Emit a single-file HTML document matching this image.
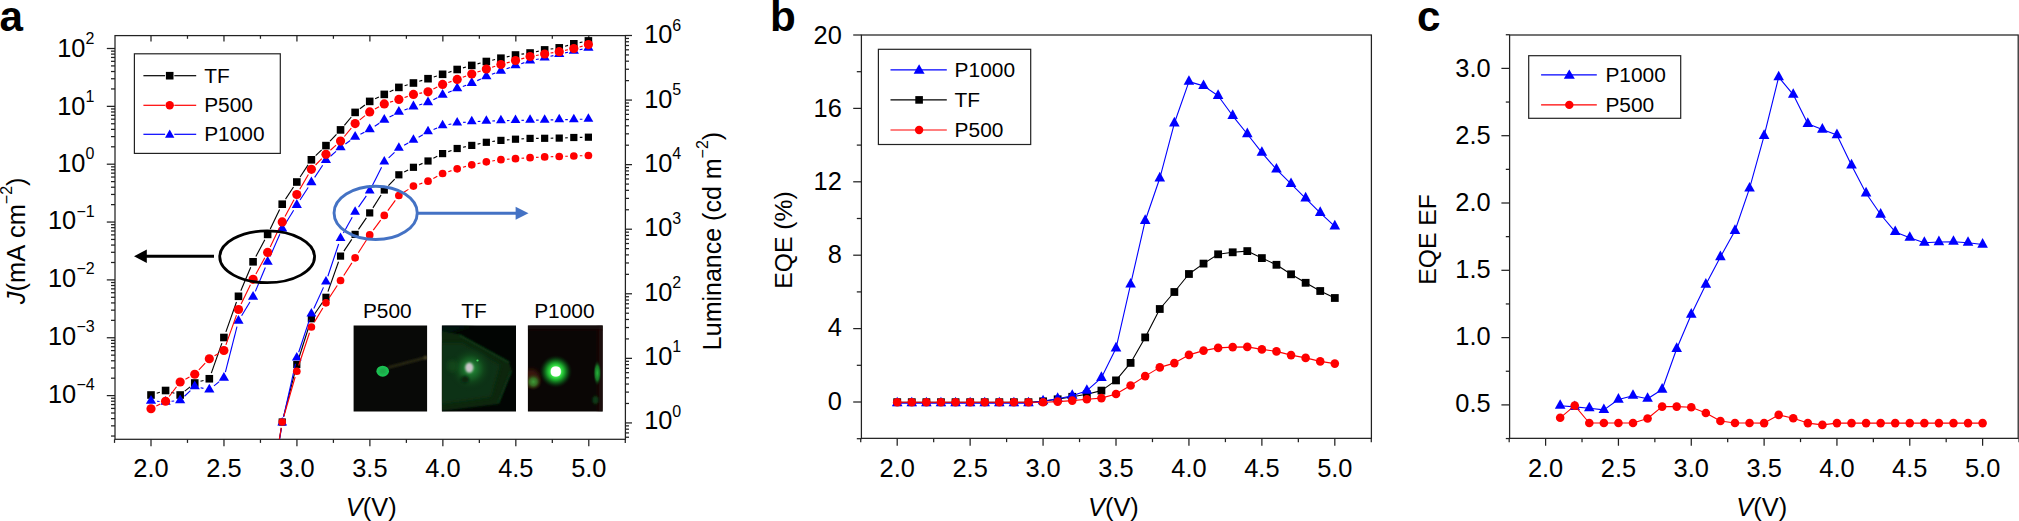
<!DOCTYPE html>
<html lang="en"><head><meta charset="utf-8"><title>Figure</title>
<style>html,body{margin:0;padding:0;background:#fff}svg{display:block}</style></head>
<body>
<svg width="2019" height="521" viewBox="0 0 2019 521" font-family='"Liberation Sans", Arial, Helvetica, sans-serif' fill="#000">
<defs>
<clipPath id="clipA"><rect x="115" y="35.6" width="510.4" height="403.7"/></clipPath>
<radialGradient id="gTF" cx="0.5" cy="0.5" r="0.5"><stop offset="0" stop-color="#2a9a3e"/><stop offset="0.28" stop-color="#1b702c"/><stop offset="0.58" stop-color="#10441a"/><stop offset="1" stop-color="#0b2a13" stop-opacity="0"/></radialGradient>
<radialGradient id="gP1" cx="0.5" cy="0.5" r="0.5"><stop offset="0" stop-color="#ffffff"/><stop offset="0.26" stop-color="#f0fff0"/><stop offset="0.36" stop-color="#34e044"/><stop offset="0.55" stop-color="#189a28"/><stop offset="0.78" stop-color="#0b4513" stop-opacity="0.8"/><stop offset="1" stop-color="#061a08" stop-opacity="0"/></radialGradient>
<radialGradient id="gP1l" cx="0.5" cy="0.5" r="0.5"><stop offset="0" stop-color="#3f9a38"/><stop offset="0.45" stop-color="#356a22"/><stop offset="1" stop-color="#32200a" stop-opacity="0"/></radialGradient>
<radialGradient id="gP1r" cx="0.5" cy="0.5" r="0.5"><stop offset="0" stop-color="#25b03a"/><stop offset="0.55" stop-color="#167024"/><stop offset="1" stop-color="#0a1a08" stop-opacity="0"/></radialGradient>
<clipPath id="cP5"><rect x="353.6" y="325.6" width="73.5" height="85.8"/></clipPath>
<clipPath id="cTF"><rect x="441.9" y="325.6" width="74.1" height="85.8"/></clipPath>
<clipPath id="cP1"><rect x="527.9" y="325.6" width="74.8" height="85.8"/></clipPath>
<filter id="blur05" x="-30%" y="-30%" width="160%" height="160%"><feGaussianBlur stdDeviation="0.5"/></filter>
<filter id="blur1" x="-30%" y="-30%" width="160%" height="160%"><feGaussianBlur stdDeviation="0.9"/></filter>
<filter id="blur2" x="-30%" y="-30%" width="160%" height="160%"><feGaussianBlur stdDeviation="2"/></filter>

</defs>
<rect width="2019" height="521" fill="#fff"/>
<rect x="115.0" y="35.6" width="510.4" height="403.7" fill="none" stroke="#222" stroke-width="1.25"/>
<line x1="114.52" y1="439.30" x2="114.52" y2="442.90" stroke="#222" stroke-width="1.25" />
<line x1="151.00" y1="439.30" x2="151.00" y2="446.30" stroke="#222" stroke-width="1.25" />
<line x1="151.00" y1="35.60" x2="151.00" y2="41.60" stroke="#222" stroke-width="1.25" />
<text x="151.00" y="477.00" font-size="25.4" text-anchor="middle" font-weight="normal" font-style="normal" >2.0</text>
<line x1="187.48" y1="439.30" x2="187.48" y2="442.90" stroke="#222" stroke-width="1.25" />
<line x1="187.48" y1="35.60" x2="187.48" y2="38.80" stroke="#222" stroke-width="1.25" />
<line x1="223.97" y1="439.30" x2="223.97" y2="446.30" stroke="#222" stroke-width="1.25" />
<line x1="223.97" y1="35.60" x2="223.97" y2="41.60" stroke="#222" stroke-width="1.25" />
<text x="223.97" y="477.00" font-size="25.4" text-anchor="middle" font-weight="normal" font-style="normal" >2.5</text>
<line x1="260.45" y1="439.30" x2="260.45" y2="442.90" stroke="#222" stroke-width="1.25" />
<line x1="260.45" y1="35.60" x2="260.45" y2="38.80" stroke="#222" stroke-width="1.25" />
<line x1="296.93" y1="439.30" x2="296.93" y2="446.30" stroke="#222" stroke-width="1.25" />
<line x1="296.93" y1="35.60" x2="296.93" y2="41.60" stroke="#222" stroke-width="1.25" />
<text x="296.93" y="477.00" font-size="25.4" text-anchor="middle" font-weight="normal" font-style="normal" >3.0</text>
<line x1="333.41" y1="439.30" x2="333.41" y2="442.90" stroke="#222" stroke-width="1.25" />
<line x1="333.41" y1="35.60" x2="333.41" y2="38.80" stroke="#222" stroke-width="1.25" />
<line x1="369.89" y1="439.30" x2="369.89" y2="446.30" stroke="#222" stroke-width="1.25" />
<line x1="369.89" y1="35.60" x2="369.89" y2="41.60" stroke="#222" stroke-width="1.25" />
<text x="369.89" y="477.00" font-size="25.4" text-anchor="middle" font-weight="normal" font-style="normal" >3.5</text>
<line x1="406.38" y1="439.30" x2="406.38" y2="442.90" stroke="#222" stroke-width="1.25" />
<line x1="406.38" y1="35.60" x2="406.38" y2="38.80" stroke="#222" stroke-width="1.25" />
<line x1="442.86" y1="439.30" x2="442.86" y2="446.30" stroke="#222" stroke-width="1.25" />
<line x1="442.86" y1="35.60" x2="442.86" y2="41.60" stroke="#222" stroke-width="1.25" />
<text x="442.86" y="477.00" font-size="25.4" text-anchor="middle" font-weight="normal" font-style="normal" >4.0</text>
<line x1="479.34" y1="439.30" x2="479.34" y2="442.90" stroke="#222" stroke-width="1.25" />
<line x1="479.34" y1="35.60" x2="479.34" y2="38.80" stroke="#222" stroke-width="1.25" />
<line x1="515.83" y1="439.30" x2="515.83" y2="446.30" stroke="#222" stroke-width="1.25" />
<line x1="515.83" y1="35.60" x2="515.83" y2="41.60" stroke="#222" stroke-width="1.25" />
<text x="515.83" y="477.00" font-size="25.4" text-anchor="middle" font-weight="normal" font-style="normal" >4.5</text>
<line x1="552.31" y1="439.30" x2="552.31" y2="442.90" stroke="#222" stroke-width="1.25" />
<line x1="552.31" y1="35.60" x2="552.31" y2="38.80" stroke="#222" stroke-width="1.25" />
<line x1="588.79" y1="439.30" x2="588.79" y2="446.30" stroke="#222" stroke-width="1.25" />
<line x1="588.79" y1="35.60" x2="588.79" y2="41.60" stroke="#222" stroke-width="1.25" />
<text x="588.79" y="477.00" font-size="25.4" text-anchor="middle" font-weight="normal" font-style="normal" >5.0</text>
<line x1="625.27" y1="439.30" x2="625.27" y2="442.90" stroke="#222" stroke-width="1.25" />
<line x1="111.00" y1="436.04" x2="115.00" y2="436.04" stroke="#222" stroke-width="1.25" />
<line x1="111.00" y1="425.85" x2="115.00" y2="425.85" stroke="#222" stroke-width="1.25" />
<line x1="111.00" y1="418.62" x2="115.00" y2="418.62" stroke="#222" stroke-width="1.25" />
<line x1="111.00" y1="413.01" x2="115.00" y2="413.01" stroke="#222" stroke-width="1.25" />
<line x1="111.00" y1="408.43" x2="115.00" y2="408.43" stroke="#222" stroke-width="1.25" />
<line x1="111.00" y1="404.56" x2="115.00" y2="404.56" stroke="#222" stroke-width="1.25" />
<line x1="111.00" y1="401.21" x2="115.00" y2="401.21" stroke="#222" stroke-width="1.25" />
<line x1="111.00" y1="398.25" x2="115.00" y2="398.25" stroke="#222" stroke-width="1.25" />
<line x1="106.80" y1="395.60" x2="115.00" y2="395.60" stroke="#222" stroke-width="1.25" />
<line x1="111.00" y1="378.19" x2="115.00" y2="378.19" stroke="#222" stroke-width="1.25" />
<line x1="111.00" y1="368.00" x2="115.00" y2="368.00" stroke="#222" stroke-width="1.25" />
<line x1="111.00" y1="360.77" x2="115.00" y2="360.77" stroke="#222" stroke-width="1.25" />
<line x1="111.00" y1="355.16" x2="115.00" y2="355.16" stroke="#222" stroke-width="1.25" />
<line x1="111.00" y1="350.58" x2="115.00" y2="350.58" stroke="#222" stroke-width="1.25" />
<line x1="111.00" y1="346.71" x2="115.00" y2="346.71" stroke="#222" stroke-width="1.25" />
<line x1="111.00" y1="343.36" x2="115.00" y2="343.36" stroke="#222" stroke-width="1.25" />
<line x1="111.00" y1="340.40" x2="115.00" y2="340.40" stroke="#222" stroke-width="1.25" />
<text x="48.00" y="402.90" font-size="25.4" text-anchor="start" font-weight="normal" font-style="normal" >10</text>
<text x="76.40" y="390.10" font-size="16" text-anchor="start" font-weight="normal" font-style="normal" >−4</text>
<line x1="106.80" y1="337.75" x2="115.00" y2="337.75" stroke="#222" stroke-width="1.25" />
<line x1="111.00" y1="320.34" x2="115.00" y2="320.34" stroke="#222" stroke-width="1.25" />
<line x1="111.00" y1="310.15" x2="115.00" y2="310.15" stroke="#222" stroke-width="1.25" />
<line x1="111.00" y1="302.92" x2="115.00" y2="302.92" stroke="#222" stroke-width="1.25" />
<line x1="111.00" y1="297.31" x2="115.00" y2="297.31" stroke="#222" stroke-width="1.25" />
<line x1="111.00" y1="292.73" x2="115.00" y2="292.73" stroke="#222" stroke-width="1.25" />
<line x1="111.00" y1="288.86" x2="115.00" y2="288.86" stroke="#222" stroke-width="1.25" />
<line x1="111.00" y1="285.51" x2="115.00" y2="285.51" stroke="#222" stroke-width="1.25" />
<line x1="111.00" y1="282.55" x2="115.00" y2="282.55" stroke="#222" stroke-width="1.25" />
<text x="48.00" y="345.05" font-size="25.4" text-anchor="start" font-weight="normal" font-style="normal" >10</text>
<text x="76.40" y="332.25" font-size="16" text-anchor="start" font-weight="normal" font-style="normal" >−3</text>
<line x1="106.80" y1="279.90" x2="115.00" y2="279.90" stroke="#222" stroke-width="1.25" />
<line x1="111.00" y1="262.49" x2="115.00" y2="262.49" stroke="#222" stroke-width="1.25" />
<line x1="111.00" y1="252.30" x2="115.00" y2="252.30" stroke="#222" stroke-width="1.25" />
<line x1="111.00" y1="245.07" x2="115.00" y2="245.07" stroke="#222" stroke-width="1.25" />
<line x1="111.00" y1="239.46" x2="115.00" y2="239.46" stroke="#222" stroke-width="1.25" />
<line x1="111.00" y1="234.88" x2="115.00" y2="234.88" stroke="#222" stroke-width="1.25" />
<line x1="111.00" y1="231.01" x2="115.00" y2="231.01" stroke="#222" stroke-width="1.25" />
<line x1="111.00" y1="227.66" x2="115.00" y2="227.66" stroke="#222" stroke-width="1.25" />
<line x1="111.00" y1="224.70" x2="115.00" y2="224.70" stroke="#222" stroke-width="1.25" />
<text x="48.00" y="287.20" font-size="25.4" text-anchor="start" font-weight="normal" font-style="normal" >10</text>
<text x="76.40" y="274.40" font-size="16" text-anchor="start" font-weight="normal" font-style="normal" >−2</text>
<line x1="106.80" y1="222.05" x2="115.00" y2="222.05" stroke="#222" stroke-width="1.25" />
<line x1="111.00" y1="204.64" x2="115.00" y2="204.64" stroke="#222" stroke-width="1.25" />
<line x1="111.00" y1="194.45" x2="115.00" y2="194.45" stroke="#222" stroke-width="1.25" />
<line x1="111.00" y1="187.22" x2="115.00" y2="187.22" stroke="#222" stroke-width="1.25" />
<line x1="111.00" y1="181.61" x2="115.00" y2="181.61" stroke="#222" stroke-width="1.25" />
<line x1="111.00" y1="177.03" x2="115.00" y2="177.03" stroke="#222" stroke-width="1.25" />
<line x1="111.00" y1="173.16" x2="115.00" y2="173.16" stroke="#222" stroke-width="1.25" />
<line x1="111.00" y1="169.81" x2="115.00" y2="169.81" stroke="#222" stroke-width="1.25" />
<line x1="111.00" y1="166.85" x2="115.00" y2="166.85" stroke="#222" stroke-width="1.25" />
<text x="48.00" y="229.40" font-size="25.4" text-anchor="start" font-weight="normal" font-style="normal" >10</text>
<text x="76.40" y="216.60" font-size="16" text-anchor="start" font-weight="normal" font-style="normal" >−1</text>
<line x1="106.80" y1="164.20" x2="115.00" y2="164.20" stroke="#222" stroke-width="1.25" />
<line x1="111.00" y1="146.79" x2="115.00" y2="146.79" stroke="#222" stroke-width="1.25" />
<line x1="111.00" y1="136.60" x2="115.00" y2="136.60" stroke="#222" stroke-width="1.25" />
<line x1="111.00" y1="129.37" x2="115.00" y2="129.37" stroke="#222" stroke-width="1.25" />
<line x1="111.00" y1="123.76" x2="115.00" y2="123.76" stroke="#222" stroke-width="1.25" />
<line x1="111.00" y1="119.18" x2="115.00" y2="119.18" stroke="#222" stroke-width="1.25" />
<line x1="111.00" y1="115.31" x2="115.00" y2="115.31" stroke="#222" stroke-width="1.25" />
<line x1="111.00" y1="111.96" x2="115.00" y2="111.96" stroke="#222" stroke-width="1.25" />
<line x1="111.00" y1="109.00" x2="115.00" y2="109.00" stroke="#222" stroke-width="1.25" />
<text x="57.20" y="172.00" font-size="25.4" text-anchor="start" font-weight="normal" font-style="normal" >10</text>
<text x="85.60" y="159.20" font-size="16" text-anchor="start" font-weight="normal" font-style="normal" >0</text>
<line x1="106.80" y1="106.35" x2="115.00" y2="106.35" stroke="#222" stroke-width="1.25" />
<line x1="111.00" y1="88.94" x2="115.00" y2="88.94" stroke="#222" stroke-width="1.25" />
<line x1="111.00" y1="78.75" x2="115.00" y2="78.75" stroke="#222" stroke-width="1.25" />
<line x1="111.00" y1="71.52" x2="115.00" y2="71.52" stroke="#222" stroke-width="1.25" />
<line x1="111.00" y1="65.91" x2="115.00" y2="65.91" stroke="#222" stroke-width="1.25" />
<line x1="111.00" y1="61.33" x2="115.00" y2="61.33" stroke="#222" stroke-width="1.25" />
<line x1="111.00" y1="57.46" x2="115.00" y2="57.46" stroke="#222" stroke-width="1.25" />
<line x1="111.00" y1="54.11" x2="115.00" y2="54.11" stroke="#222" stroke-width="1.25" />
<line x1="111.00" y1="51.15" x2="115.00" y2="51.15" stroke="#222" stroke-width="1.25" />
<text x="57.20" y="114.65" font-size="25.4" text-anchor="start" font-weight="normal" font-style="normal" >10</text>
<text x="85.60" y="101.85" font-size="16" text-anchor="start" font-weight="normal" font-style="normal" >1</text>
<line x1="106.80" y1="48.50" x2="115.00" y2="48.50" stroke="#222" stroke-width="1.25" />
<text x="57.20" y="56.95" font-size="25.4" text-anchor="start" font-weight="normal" font-style="normal" >10</text>
<text x="85.60" y="44.15" font-size="16" text-anchor="start" font-weight="normal" font-style="normal" >2</text>
<line x1="625.40" y1="437.24" x2="629.00" y2="437.24" stroke="#222" stroke-width="1.25" />
<line x1="625.40" y1="432.92" x2="629.00" y2="432.92" stroke="#222" stroke-width="1.25" />
<line x1="625.40" y1="429.18" x2="629.00" y2="429.18" stroke="#222" stroke-width="1.25" />
<line x1="625.40" y1="425.87" x2="629.00" y2="425.87" stroke="#222" stroke-width="1.25" />
<line x1="625.40" y1="422.92" x2="632.00" y2="422.92" stroke="#222" stroke-width="1.25" />
<line x1="625.40" y1="403.48" x2="629.00" y2="403.48" stroke="#222" stroke-width="1.25" />
<line x1="625.40" y1="392.11" x2="629.00" y2="392.11" stroke="#222" stroke-width="1.25" />
<line x1="625.40" y1="384.04" x2="629.00" y2="384.04" stroke="#222" stroke-width="1.25" />
<line x1="625.40" y1="377.79" x2="629.00" y2="377.79" stroke="#222" stroke-width="1.25" />
<line x1="625.40" y1="372.67" x2="629.00" y2="372.67" stroke="#222" stroke-width="1.25" />
<line x1="625.40" y1="368.35" x2="629.00" y2="368.35" stroke="#222" stroke-width="1.25" />
<line x1="625.40" y1="364.61" x2="629.00" y2="364.61" stroke="#222" stroke-width="1.25" />
<line x1="625.40" y1="361.30" x2="629.00" y2="361.30" stroke="#222" stroke-width="1.25" />
<text x="644.20" y="429.32" font-size="25.4" text-anchor="start" font-weight="normal" font-style="normal" >10</text>
<text x="672.30" y="416.82" font-size="16" text-anchor="start" font-weight="normal" font-style="normal" >0</text>
<line x1="625.40" y1="358.35" x2="632.00" y2="358.35" stroke="#222" stroke-width="1.25" />
<line x1="625.40" y1="338.91" x2="629.00" y2="338.91" stroke="#222" stroke-width="1.25" />
<line x1="625.40" y1="327.54" x2="629.00" y2="327.54" stroke="#222" stroke-width="1.25" />
<line x1="625.40" y1="319.47" x2="629.00" y2="319.47" stroke="#222" stroke-width="1.25" />
<line x1="625.40" y1="313.22" x2="629.00" y2="313.22" stroke="#222" stroke-width="1.25" />
<line x1="625.40" y1="308.10" x2="629.00" y2="308.10" stroke="#222" stroke-width="1.25" />
<line x1="625.40" y1="303.78" x2="629.00" y2="303.78" stroke="#222" stroke-width="1.25" />
<line x1="625.40" y1="300.04" x2="629.00" y2="300.04" stroke="#222" stroke-width="1.25" />
<line x1="625.40" y1="296.73" x2="629.00" y2="296.73" stroke="#222" stroke-width="1.25" />
<text x="644.20" y="364.97" font-size="25.4" text-anchor="start" font-weight="normal" font-style="normal" >10</text>
<text x="672.30" y="352.47" font-size="16" text-anchor="start" font-weight="normal" font-style="normal" >1</text>
<line x1="625.40" y1="293.78" x2="632.00" y2="293.78" stroke="#222" stroke-width="1.25" />
<line x1="625.40" y1="274.34" x2="629.00" y2="274.34" stroke="#222" stroke-width="1.25" />
<line x1="625.40" y1="262.97" x2="629.00" y2="262.97" stroke="#222" stroke-width="1.25" />
<line x1="625.40" y1="254.90" x2="629.00" y2="254.90" stroke="#222" stroke-width="1.25" />
<line x1="625.40" y1="248.65" x2="629.00" y2="248.65" stroke="#222" stroke-width="1.25" />
<line x1="625.40" y1="243.53" x2="629.00" y2="243.53" stroke="#222" stroke-width="1.25" />
<line x1="625.40" y1="239.21" x2="629.00" y2="239.21" stroke="#222" stroke-width="1.25" />
<line x1="625.40" y1="235.47" x2="629.00" y2="235.47" stroke="#222" stroke-width="1.25" />
<line x1="625.40" y1="232.16" x2="629.00" y2="232.16" stroke="#222" stroke-width="1.25" />
<text x="644.20" y="300.63" font-size="25.4" text-anchor="start" font-weight="normal" font-style="normal" >10</text>
<text x="672.30" y="288.13" font-size="16" text-anchor="start" font-weight="normal" font-style="normal" >2</text>
<line x1="625.40" y1="229.21" x2="632.00" y2="229.21" stroke="#222" stroke-width="1.25" />
<line x1="625.40" y1="209.77" x2="629.00" y2="209.77" stroke="#222" stroke-width="1.25" />
<line x1="625.40" y1="198.40" x2="629.00" y2="198.40" stroke="#222" stroke-width="1.25" />
<line x1="625.40" y1="190.33" x2="629.00" y2="190.33" stroke="#222" stroke-width="1.25" />
<line x1="625.40" y1="184.08" x2="629.00" y2="184.08" stroke="#222" stroke-width="1.25" />
<line x1="625.40" y1="178.96" x2="629.00" y2="178.96" stroke="#222" stroke-width="1.25" />
<line x1="625.40" y1="174.64" x2="629.00" y2="174.64" stroke="#222" stroke-width="1.25" />
<line x1="625.40" y1="170.90" x2="629.00" y2="170.90" stroke="#222" stroke-width="1.25" />
<line x1="625.40" y1="167.59" x2="629.00" y2="167.59" stroke="#222" stroke-width="1.25" />
<text x="644.20" y="236.28" font-size="25.4" text-anchor="start" font-weight="normal" font-style="normal" >10</text>
<text x="672.30" y="223.78" font-size="16" text-anchor="start" font-weight="normal" font-style="normal" >3</text>
<line x1="625.40" y1="164.64" x2="632.00" y2="164.64" stroke="#222" stroke-width="1.25" />
<line x1="625.40" y1="145.20" x2="629.00" y2="145.20" stroke="#222" stroke-width="1.25" />
<line x1="625.40" y1="133.83" x2="629.00" y2="133.83" stroke="#222" stroke-width="1.25" />
<line x1="625.40" y1="125.76" x2="629.00" y2="125.76" stroke="#222" stroke-width="1.25" />
<line x1="625.40" y1="119.51" x2="629.00" y2="119.51" stroke="#222" stroke-width="1.25" />
<line x1="625.40" y1="114.39" x2="629.00" y2="114.39" stroke="#222" stroke-width="1.25" />
<line x1="625.40" y1="110.07" x2="629.00" y2="110.07" stroke="#222" stroke-width="1.25" />
<line x1="625.40" y1="106.33" x2="629.00" y2="106.33" stroke="#222" stroke-width="1.25" />
<line x1="625.40" y1="103.02" x2="629.00" y2="103.02" stroke="#222" stroke-width="1.25" />
<text x="644.20" y="171.94" font-size="25.4" text-anchor="start" font-weight="normal" font-style="normal" >10</text>
<text x="672.30" y="159.44" font-size="16" text-anchor="start" font-weight="normal" font-style="normal" >4</text>
<line x1="625.40" y1="100.07" x2="632.00" y2="100.07" stroke="#222" stroke-width="1.25" />
<line x1="625.40" y1="80.63" x2="629.00" y2="80.63" stroke="#222" stroke-width="1.25" />
<line x1="625.40" y1="69.26" x2="629.00" y2="69.26" stroke="#222" stroke-width="1.25" />
<line x1="625.40" y1="61.19" x2="629.00" y2="61.19" stroke="#222" stroke-width="1.25" />
<line x1="625.40" y1="54.94" x2="629.00" y2="54.94" stroke="#222" stroke-width="1.25" />
<line x1="625.40" y1="49.82" x2="629.00" y2="49.82" stroke="#222" stroke-width="1.25" />
<line x1="625.40" y1="45.50" x2="629.00" y2="45.50" stroke="#222" stroke-width="1.25" />
<line x1="625.40" y1="41.76" x2="629.00" y2="41.76" stroke="#222" stroke-width="1.25" />
<line x1="625.40" y1="38.45" x2="629.00" y2="38.45" stroke="#222" stroke-width="1.25" />
<text x="644.20" y="107.59" font-size="25.4" text-anchor="start" font-weight="normal" font-style="normal" >10</text>
<text x="672.30" y="95.09" font-size="16" text-anchor="start" font-weight="normal" font-style="normal" >5</text>
<line x1="625.40" y1="35.50" x2="632.00" y2="35.50" stroke="#222" stroke-width="1.25" />
<text x="644.20" y="43.25" font-size="25.4" text-anchor="start" font-weight="normal" font-style="normal" >10</text>
<text x="672.30" y="30.75" font-size="16" text-anchor="start" font-weight="normal" font-style="normal" >6</text>
<text x="371.20" y="515.70" font-size="25.4" text-anchor="middle" font-weight="normal" font-style="normal" ><tspan font-style="italic">V</tspan>(V)</text>
<text transform="translate(25,240.8) rotate(-90)" font-size="25.4" text-anchor="middle"><tspan font-style="italic">J</tspan>(mA<tspan dx="1.2"> cm</tspan><tspan font-size="16" dy="-12.6">−2</tspan><tspan dy="12.6">)</tspan></text>
<text transform="translate(720.8,241.0) rotate(-90)" font-size="25.0" text-anchor="middle">Luminance (cd m<tspan font-size="16" dy="-12.6">−2</tspan><tspan dy="12.6">)</tspan></text>
<text x="-0.60" y="31.40" font-size="42.2" text-anchor="start" font-weight="bold" font-style="normal" >a</text>
<g clip-path="url(#clipA)">
<line x1="156.73" y1="393.23" x2="159.85" y2="392.27" stroke="#000000" stroke-width="1.12" />
<line x1="171.31" y1="392.27" x2="174.43" y2="393.23" stroke="#000000" stroke-width="1.12" />
<line x1="184.79" y1="391.19" x2="190.11" y2="386.81" stroke="#000000" stroke-width="1.12" />
<line x1="200.50" y1="381.32" x2="203.56" y2="380.43" stroke="#000000" stroke-width="1.12" />
<line x1="211.32" y1="373.09" x2="221.90" y2="343.16" stroke="#000000" stroke-width="1.12" />
<line x1="225.90" y1="331.84" x2="236.48" y2="301.96" stroke="#000000" stroke-width="1.12" />
<line x1="240.82" y1="290.77" x2="250.72" y2="267.33" stroke="#000000" stroke-width="1.12" />
<line x1="255.88" y1="256.50" x2="264.82" y2="239.70" stroke="#000000" stroke-width="1.12" />
<line x1="270.25" y1="229.00" x2="279.61" y2="209.60" stroke="#000000" stroke-width="1.12" />
<line x1="285.51" y1="199.18" x2="293.51" y2="187.02" stroke="#000000" stroke-width="1.12" />
<line x1="300.09" y1="176.98" x2="308.09" y2="164.82" stroke="#000000" stroke-width="1.12" />
<line x1="315.68" y1="155.61" x2="321.66" y2="149.79" stroke="#000000" stroke-width="1.12" />
<line x1="330.04" y1="141.20" x2="336.46" y2="134.30" stroke="#000000" stroke-width="1.12" />
<line x1="344.38" y1="125.29" x2="351.28" y2="117.01" stroke="#000000" stroke-width="1.12" />
<line x1="359.91" y1="108.79" x2="364.91" y2="105.01" stroke="#000000" stroke-width="1.12" />
<line x1="375.11" y1="98.80" x2="378.87" y2="97.00" stroke="#000000" stroke-width="1.12" />
<line x1="389.69" y1="91.80" x2="393.45" y2="90.00" stroke="#000000" stroke-width="1.12" />
<line x1="404.60" y1="85.67" x2="407.70" y2="84.73" stroke="#000000" stroke-width="1.12" />
<line x1="419.19" y1="81.30" x2="422.27" y2="80.40" stroke="#000000" stroke-width="1.12" />
<line x1="433.76" y1="76.97" x2="436.86" y2="76.03" stroke="#000000" stroke-width="1.12" />
<line x1="448.30" y1="72.42" x2="451.48" y2="71.38" stroke="#000000" stroke-width="1.12" />
<line x1="462.96" y1="67.88" x2="465.98" y2="67.02" stroke="#000000" stroke-width="1.12" />
<line x1="477.56" y1="63.85" x2="480.54" y2="63.05" stroke="#000000" stroke-width="1.12" />
<line x1="492.19" y1="60.18" x2="495.07" y2="59.52" stroke="#000000" stroke-width="1.12" />
<line x1="506.78" y1="56.91" x2="509.64" y2="56.29" stroke="#000000" stroke-width="1.12" />
<line x1="521.44" y1="54.18" x2="524.14" y2="53.82" stroke="#000000" stroke-width="1.12" />
<line x1="535.95" y1="51.75" x2="538.79" y2="51.15" stroke="#000000" stroke-width="1.12" />
<line x1="550.60" y1="49.06" x2="553.30" y2="48.69" stroke="#000000" stroke-width="1.12" />
<line x1="565.02" y1="46.24" x2="568.04" y2="45.41" stroke="#000000" stroke-width="1.12" />
<line x1="579.70" y1="42.63" x2="582.52" y2="42.07" stroke="#000000" stroke-width="1.12" />
<rect x="147.20" y="391.20" width="7.60" height="7.60" fill="#000000"/>
<rect x="161.78" y="386.70" width="7.60" height="7.60" fill="#000000"/>
<rect x="176.36" y="391.20" width="7.60" height="7.60" fill="#000000"/>
<rect x="190.94" y="379.20" width="7.60" height="7.60" fill="#000000"/>
<rect x="205.52" y="374.95" width="7.60" height="7.60" fill="#000000"/>
<rect x="220.10" y="333.70" width="7.60" height="7.60" fill="#000000"/>
<rect x="234.68" y="292.50" width="7.60" height="7.60" fill="#000000"/>
<rect x="249.26" y="258.00" width="7.60" height="7.60" fill="#000000"/>
<rect x="263.84" y="230.60" width="7.60" height="7.60" fill="#000000"/>
<rect x="278.42" y="200.40" width="7.60" height="7.60" fill="#000000"/>
<rect x="293.00" y="178.20" width="7.60" height="7.60" fill="#000000"/>
<rect x="307.58" y="156.00" width="7.60" height="7.60" fill="#000000"/>
<rect x="322.16" y="141.80" width="7.60" height="7.60" fill="#000000"/>
<rect x="336.74" y="126.10" width="7.60" height="7.60" fill="#000000"/>
<rect x="351.32" y="108.60" width="7.60" height="7.60" fill="#000000"/>
<rect x="365.90" y="97.60" width="7.60" height="7.60" fill="#000000"/>
<rect x="380.48" y="90.60" width="7.60" height="7.60" fill="#000000"/>
<rect x="395.06" y="83.60" width="7.60" height="7.60" fill="#000000"/>
<rect x="409.64" y="79.20" width="7.60" height="7.60" fill="#000000"/>
<rect x="424.22" y="74.90" width="7.60" height="7.60" fill="#000000"/>
<rect x="438.80" y="70.50" width="7.60" height="7.60" fill="#000000"/>
<rect x="453.38" y="65.70" width="7.60" height="7.60" fill="#000000"/>
<rect x="467.96" y="61.60" width="7.60" height="7.60" fill="#000000"/>
<rect x="482.54" y="57.70" width="7.60" height="7.60" fill="#000000"/>
<rect x="497.12" y="54.40" width="7.60" height="7.60" fill="#000000"/>
<rect x="511.70" y="51.20" width="7.60" height="7.60" fill="#000000"/>
<rect x="526.28" y="49.20" width="7.60" height="7.60" fill="#000000"/>
<rect x="540.86" y="46.10" width="7.60" height="7.60" fill="#000000"/>
<rect x="555.44" y="44.05" width="7.60" height="7.60" fill="#000000"/>
<rect x="570.02" y="40.00" width="7.60" height="7.60" fill="#000000"/>
<rect x="584.60" y="37.10" width="7.60" height="7.60" fill="#000000"/>
</g>
<g clip-path="url(#clipA)">
<line x1="156.99" y1="401.31" x2="159.59" y2="401.49" stroke="#0000ff" stroke-width="1.12" />
<line x1="171.55" y1="401.29" x2="174.19" y2="401.01" stroke="#0000ff" stroke-width="1.12" />
<line x1="184.49" y1="396.24" x2="190.41" y2="390.56" stroke="#0000ff" stroke-width="1.12" />
<line x1="200.60" y1="387.71" x2="203.46" y2="388.34" stroke="#0000ff" stroke-width="1.12" />
<line x1="213.99" y1="385.89" x2="219.23" y2="381.66" stroke="#0000ff" stroke-width="1.12" />
<line x1="225.39" y1="372.09" x2="236.99" y2="326.71" stroke="#0000ff" stroke-width="1.12" />
<line x1="241.60" y1="315.77" x2="249.94" y2="302.03" stroke="#0000ff" stroke-width="1.12" />
<line x1="255.37" y1="291.36" x2="265.33" y2="267.54" stroke="#0000ff" stroke-width="1.12" />
<line x1="270.05" y1="256.51" x2="279.81" y2="234.29" stroke="#0000ff" stroke-width="1.12" />
<line x1="285.36" y1="223.69" x2="293.66" y2="210.21" stroke="#0000ff" stroke-width="1.12" />
<line x1="300.04" y1="200.05" x2="308.14" y2="187.45" stroke="#0000ff" stroke-width="1.12" />
<line x1="314.67" y1="177.38" x2="322.67" y2="165.22" stroke="#0000ff" stroke-width="1.12" />
<line x1="330.48" y1="156.26" x2="336.02" y2="151.44" stroke="#0000ff" stroke-width="1.12" />
<line x1="345.41" y1="143.99" x2="350.25" y2="140.51" stroke="#0000ff" stroke-width="1.12" />
<line x1="360.46" y1="134.26" x2="364.36" y2="132.24" stroke="#0000ff" stroke-width="1.12" />
<line x1="374.73" y1="126.22" x2="379.25" y2="123.28" stroke="#0000ff" stroke-width="1.12" />
<line x1="389.54" y1="117.11" x2="393.60" y2="114.89" stroke="#0000ff" stroke-width="1.12" />
<line x1="404.49" y1="109.92" x2="407.81" y2="108.68" stroke="#0000ff" stroke-width="1.12" />
<line x1="419.21" y1="104.94" x2="422.25" y2="104.06" stroke="#0000ff" stroke-width="1.12" />
<line x1="433.36" y1="99.66" x2="437.26" y2="97.64" stroke="#0000ff" stroke-width="1.12" />
<line x1="448.09" y1="92.49" x2="451.69" y2="90.91" stroke="#0000ff" stroke-width="1.12" />
<line x1="462.81" y1="86.42" x2="466.13" y2="85.18" stroke="#0000ff" stroke-width="1.12" />
<line x1="477.23" y1="80.63" x2="480.87" y2="78.97" stroke="#0000ff" stroke-width="1.12" />
<line x1="491.94" y1="74.35" x2="495.32" y2="73.05" stroke="#0000ff" stroke-width="1.12" />
<line x1="506.55" y1="68.82" x2="509.87" y2="67.58" stroke="#0000ff" stroke-width="1.12" />
<line x1="521.21" y1="63.66" x2="524.37" y2="62.64" stroke="#0000ff" stroke-width="1.12" />
<line x1="535.95" y1="59.55" x2="538.79" y2="58.95" stroke="#0000ff" stroke-width="1.12" />
<line x1="550.49" y1="56.30" x2="553.41" y2="55.60" stroke="#0000ff" stroke-width="1.12" />
<line x1="565.09" y1="52.88" x2="567.97" y2="52.22" stroke="#0000ff" stroke-width="1.12" />
<line x1="579.70" y1="49.69" x2="582.52" y2="49.11" stroke="#0000ff" stroke-width="1.12" />
<polygon points="151.00,394.90 156.10,403.70 145.90,403.70" fill="#0000ff"/>
<polygon points="165.58,395.90 170.68,404.70 160.48,404.70" fill="#0000ff"/>
<polygon points="180.16,394.40 185.26,403.20 175.06,403.20" fill="#0000ff"/>
<polygon points="194.74,380.40 199.84,389.20 189.64,389.20" fill="#0000ff"/>
<polygon points="209.32,383.65 214.42,392.45 204.22,392.45" fill="#0000ff"/>
<polygon points="223.90,371.90 229.00,380.70 218.80,380.70" fill="#0000ff"/>
<polygon points="238.48,314.90 243.58,323.70 233.38,323.70" fill="#0000ff"/>
<polygon points="253.06,290.90 258.16,299.70 247.96,299.70" fill="#0000ff"/>
<polygon points="267.64,256.00 272.74,264.80 262.54,264.80" fill="#0000ff"/>
<polygon points="282.22,222.80 287.32,231.60 277.12,231.60" fill="#0000ff"/>
<polygon points="296.80,199.10 301.90,207.90 291.70,207.90" fill="#0000ff"/>
<polygon points="311.38,176.40 316.48,185.20 306.28,185.20" fill="#0000ff"/>
<polygon points="325.96,154.20 331.06,163.00 320.86,163.00" fill="#0000ff"/>
<polygon points="340.54,141.50 345.64,150.30 335.44,150.30" fill="#0000ff"/>
<polygon points="355.12,131.00 360.22,139.80 350.02,139.80" fill="#0000ff"/>
<polygon points="369.70,123.50 374.80,132.30 364.60,132.30" fill="#0000ff"/>
<polygon points="384.28,114.00 389.38,122.80 379.18,122.80" fill="#0000ff"/>
<polygon points="398.86,106.00 403.96,114.80 393.76,114.80" fill="#0000ff"/>
<polygon points="413.44,100.60 418.54,109.40 408.34,109.40" fill="#0000ff"/>
<polygon points="428.02,96.40 433.12,105.20 422.92,105.20" fill="#0000ff"/>
<polygon points="442.60,88.90 447.70,97.70 437.50,97.70" fill="#0000ff"/>
<polygon points="457.18,82.50 462.28,91.30 452.08,91.30" fill="#0000ff"/>
<polygon points="471.76,77.10 476.86,85.90 466.66,85.90" fill="#0000ff"/>
<polygon points="486.34,70.50 491.44,79.30 481.24,79.30" fill="#0000ff"/>
<polygon points="500.92,64.90 506.02,73.70 495.82,73.70" fill="#0000ff"/>
<polygon points="515.50,59.50 520.60,68.30 510.40,68.30" fill="#0000ff"/>
<polygon points="530.08,54.80 535.18,63.60 524.98,63.60" fill="#0000ff"/>
<polygon points="544.66,51.70 549.76,60.50 539.56,60.50" fill="#0000ff"/>
<polygon points="559.24,48.20 564.34,57.00 554.14,57.00" fill="#0000ff"/>
<polygon points="573.82,44.90 578.92,53.70 568.72,53.70" fill="#0000ff"/>
<polygon points="588.40,41.90 593.50,50.70 583.30,50.70" fill="#0000ff"/>
</g>
<g clip-path="url(#clipA)">
<line x1="156.34" y1="406.01" x2="160.24" y2="403.99" stroke="#ff0000" stroke-width="1.12" />
<line x1="169.20" y1="396.47" x2="176.54" y2="386.78" stroke="#ff0000" stroke-width="1.12" />
<line x1="185.46" y1="379.18" x2="189.44" y2="377.07" stroke="#ff0000" stroke-width="1.12" />
<line x1="198.85" y1="369.88" x2="205.21" y2="363.12" stroke="#ff0000" stroke-width="1.12" />
<line x1="214.54" y1="355.80" x2="218.68" y2="353.45" stroke="#ff0000" stroke-width="1.12" />
<line x1="225.91" y1="344.85" x2="236.47" y2="315.15" stroke="#ff0000" stroke-width="1.12" />
<line x1="241.09" y1="304.10" x2="250.45" y2="284.70" stroke="#ff0000" stroke-width="1.12" />
<line x1="255.92" y1="274.03" x2="264.78" y2="257.67" stroke="#ff0000" stroke-width="1.12" />
<line x1="270.23" y1="246.99" x2="279.63" y2="227.31" stroke="#ff0000" stroke-width="1.12" />
<line x1="285.04" y1="216.60" x2="293.98" y2="199.80" stroke="#ff0000" stroke-width="1.12" />
<line x1="299.80" y1="189.31" x2="308.38" y2="174.49" stroke="#ff0000" stroke-width="1.12" />
<line x1="315.56" y1="165.00" x2="321.78" y2="158.60" stroke="#ff0000" stroke-width="1.12" />
<line x1="330.41" y1="150.27" x2="336.09" y2="145.13" stroke="#ff0000" stroke-width="1.12" />
<line x1="344.38" y1="136.49" x2="351.28" y2="128.21" stroke="#ff0000" stroke-width="1.12" />
<line x1="359.80" y1="119.84" x2="365.02" y2="115.66" stroke="#ff0000" stroke-width="1.12" />
<line x1="374.96" y1="109.01" x2="379.02" y2="106.79" stroke="#ff0000" stroke-width="1.12" />
<line x1="390.01" y1="102.13" x2="393.13" y2="101.17" stroke="#ff0000" stroke-width="1.12" />
<line x1="404.54" y1="97.45" x2="407.76" y2="96.35" stroke="#ff0000" stroke-width="1.12" />
<line x1="419.35" y1="93.35" x2="422.11" y2="92.85" stroke="#ff0000" stroke-width="1.12" />
<line x1="433.37" y1="89.08" x2="437.25" y2="87.12" stroke="#ff0000" stroke-width="1.12" />
<line x1="448.28" y1="82.45" x2="451.50" y2="81.35" stroke="#ff0000" stroke-width="1.12" />
<line x1="462.81" y1="77.32" x2="466.13" y2="76.08" stroke="#ff0000" stroke-width="1.12" />
<line x1="477.44" y1="72.05" x2="480.66" y2="70.95" stroke="#ff0000" stroke-width="1.12" />
<line x1="492.07" y1="67.23" x2="495.19" y2="66.27" stroke="#ff0000" stroke-width="1.12" />
<line x1="506.71" y1="62.91" x2="509.71" y2="62.09" stroke="#ff0000" stroke-width="1.12" />
<line x1="521.29" y1="58.91" x2="524.29" y2="58.09" stroke="#ff0000" stroke-width="1.12" />
<line x1="535.99" y1="55.49" x2="538.75" y2="55.01" stroke="#ff0000" stroke-width="1.12" />
<line x1="550.58" y1="53.05" x2="553.32" y2="52.60" stroke="#ff0000" stroke-width="1.12" />
<line x1="565.10" y1="50.38" x2="567.96" y2="49.77" stroke="#ff0000" stroke-width="1.12" />
<line x1="579.62" y1="46.95" x2="582.60" y2="46.15" stroke="#ff0000" stroke-width="1.12" />
<circle cx="151.00" cy="408.75" r="4.60" fill="#ff0000"/>
<circle cx="165.58" cy="401.25" r="4.60" fill="#ff0000"/>
<circle cx="180.16" cy="382.00" r="4.60" fill="#ff0000"/>
<circle cx="194.74" cy="374.25" r="4.60" fill="#ff0000"/>
<circle cx="209.32" cy="358.75" r="4.60" fill="#ff0000"/>
<circle cx="223.90" cy="350.50" r="4.60" fill="#ff0000"/>
<circle cx="238.48" cy="309.50" r="4.60" fill="#ff0000"/>
<circle cx="253.06" cy="279.30" r="4.60" fill="#ff0000"/>
<circle cx="267.64" cy="252.40" r="4.60" fill="#ff0000"/>
<circle cx="282.22" cy="221.90" r="4.60" fill="#ff0000"/>
<circle cx="296.80" cy="194.50" r="4.60" fill="#ff0000"/>
<circle cx="311.38" cy="169.30" r="4.60" fill="#ff0000"/>
<circle cx="325.96" cy="154.30" r="4.60" fill="#ff0000"/>
<circle cx="340.54" cy="141.10" r="4.60" fill="#ff0000"/>
<circle cx="355.12" cy="123.60" r="4.60" fill="#ff0000"/>
<circle cx="369.70" cy="111.90" r="4.60" fill="#ff0000"/>
<circle cx="384.28" cy="103.90" r="4.60" fill="#ff0000"/>
<circle cx="398.86" cy="99.40" r="4.60" fill="#ff0000"/>
<circle cx="413.44" cy="94.40" r="4.60" fill="#ff0000"/>
<circle cx="428.02" cy="91.80" r="4.60" fill="#ff0000"/>
<circle cx="442.60" cy="84.40" r="4.60" fill="#ff0000"/>
<circle cx="457.18" cy="79.40" r="4.60" fill="#ff0000"/>
<circle cx="471.76" cy="74.00" r="4.60" fill="#ff0000"/>
<circle cx="486.34" cy="69.00" r="4.60" fill="#ff0000"/>
<circle cx="500.92" cy="64.50" r="4.60" fill="#ff0000"/>
<circle cx="515.50" cy="60.50" r="4.60" fill="#ff0000"/>
<circle cx="530.08" cy="56.50" r="4.60" fill="#ff0000"/>
<circle cx="544.66" cy="54.00" r="4.60" fill="#ff0000"/>
<circle cx="559.24" cy="51.65" r="4.60" fill="#ff0000"/>
<circle cx="573.82" cy="48.50" r="4.60" fill="#ff0000"/>
<circle cx="588.40" cy="44.60" r="4.60" fill="#ff0000"/>
</g>
<g clip-path="url(#clipA)">
<line x1="268.60" y1="506.08" x2="281.26" y2="427.92" stroke="#000000" stroke-width="1.12" />
<line x1="283.69" y1="416.18" x2="295.33" y2="370.32" stroke="#000000" stroke-width="1.12" />
<line x1="298.62" y1="358.78" x2="309.56" y2="324.47" stroke="#000000" stroke-width="1.12" />
<line x1="314.75" y1="313.79" x2="322.59" y2="302.26" stroke="#000000" stroke-width="1.12" />
<line x1="327.96" y1="291.64" x2="338.54" y2="261.76" stroke="#000000" stroke-width="1.12" />
<line x1="343.89" y1="251.12" x2="351.77" y2="239.38" stroke="#000000" stroke-width="1.12" />
<line x1="358.49" y1="229.43" x2="366.33" y2="217.87" stroke="#000000" stroke-width="1.12" />
<line x1="372.92" y1="207.84" x2="381.06" y2="195.06" stroke="#000000" stroke-width="1.12" />
<line x1="388.43" y1="185.67" x2="394.71" y2="179.13" stroke="#000000" stroke-width="1.12" />
<line x1="404.20" y1="172.06" x2="408.10" y2="170.04" stroke="#000000" stroke-width="1.12" />
<line x1="418.95" y1="164.92" x2="422.51" y2="163.38" stroke="#000000" stroke-width="1.12" />
<line x1="433.37" y1="158.28" x2="437.25" y2="156.32" stroke="#000000" stroke-width="1.12" />
<line x1="448.26" y1="151.62" x2="451.52" y2="150.48" stroke="#000000" stroke-width="1.12" />
<line x1="463.05" y1="147.25" x2="465.89" y2="146.65" stroke="#000000" stroke-width="1.12" />
<line x1="477.63" y1="144.15" x2="480.47" y2="143.55" stroke="#000000" stroke-width="1.12" />
<line x1="492.29" y1="141.52" x2="494.97" y2="141.18" stroke="#000000" stroke-width="1.12" />
<line x1="506.90" y1="139.91" x2="509.52" y2="139.69" stroke="#000000" stroke-width="1.12" />
<line x1="521.49" y1="138.87" x2="524.09" y2="138.73" stroke="#000000" stroke-width="1.12" />
<line x1="536.08" y1="138.36" x2="538.66" y2="138.34" stroke="#000000" stroke-width="1.12" />
<line x1="550.66" y1="138.22" x2="553.24" y2="138.18" stroke="#000000" stroke-width="1.12" />
<line x1="565.23" y1="137.85" x2="567.83" y2="137.75" stroke="#000000" stroke-width="1.12" />
<line x1="579.82" y1="137.38" x2="582.40" y2="137.32" stroke="#000000" stroke-width="1.12" />
<rect x="264.04" y="508.40" width="7.20" height="7.20" fill="#000000"/>
<rect x="278.62" y="418.40" width="7.20" height="7.20" fill="#000000"/>
<rect x="293.20" y="360.90" width="7.20" height="7.20" fill="#000000"/>
<rect x="307.78" y="315.15" width="7.20" height="7.20" fill="#000000"/>
<rect x="322.36" y="293.70" width="7.20" height="7.20" fill="#000000"/>
<rect x="336.94" y="252.50" width="7.20" height="7.20" fill="#000000"/>
<rect x="351.52" y="230.80" width="7.20" height="7.20" fill="#000000"/>
<rect x="366.10" y="209.30" width="7.20" height="7.20" fill="#000000"/>
<rect x="380.68" y="186.40" width="7.20" height="7.20" fill="#000000"/>
<rect x="395.26" y="171.20" width="7.20" height="7.20" fill="#000000"/>
<rect x="409.84" y="163.70" width="7.20" height="7.20" fill="#000000"/>
<rect x="424.42" y="157.40" width="7.20" height="7.20" fill="#000000"/>
<rect x="439.00" y="150.00" width="7.20" height="7.20" fill="#000000"/>
<rect x="453.58" y="144.90" width="7.20" height="7.20" fill="#000000"/>
<rect x="468.16" y="141.80" width="7.20" height="7.20" fill="#000000"/>
<rect x="482.74" y="138.70" width="7.20" height="7.20" fill="#000000"/>
<rect x="497.32" y="136.80" width="7.20" height="7.20" fill="#000000"/>
<rect x="511.90" y="135.60" width="7.20" height="7.20" fill="#000000"/>
<rect x="526.48" y="134.80" width="7.20" height="7.20" fill="#000000"/>
<rect x="541.06" y="134.70" width="7.20" height="7.20" fill="#000000"/>
<rect x="555.64" y="134.50" width="7.20" height="7.20" fill="#000000"/>
<rect x="570.22" y="133.90" width="7.20" height="7.20" fill="#000000"/>
<rect x="584.80" y="133.60" width="7.20" height="7.20" fill="#000000"/>
</g>
<g clip-path="url(#clipA)">
<line x1="268.60" y1="506.98" x2="281.26" y2="428.82" stroke="#0000ff" stroke-width="1.12" />
<line x1="283.53" y1="417.05" x2="295.49" y2="363.75" stroke="#0000ff" stroke-width="1.12" />
<line x1="298.69" y1="352.20" x2="309.49" y2="319.60" stroke="#0000ff" stroke-width="1.12" />
<line x1="313.87" y1="308.44" x2="323.47" y2="287.36" stroke="#0000ff" stroke-width="1.12" />
<line x1="327.86" y1="276.21" x2="338.64" y2="243.99" stroke="#0000ff" stroke-width="1.12" />
<line x1="343.46" y1="233.06" x2="352.20" y2="217.34" stroke="#0000ff" stroke-width="1.12" />
<line x1="358.52" y1="207.16" x2="366.30" y2="195.84" stroke="#0000ff" stroke-width="1.12" />
<line x1="372.40" y1="185.54" x2="381.58" y2="167.26" stroke="#0000ff" stroke-width="1.12" />
<line x1="388.65" y1="157.79" x2="394.49" y2="152.31" stroke="#0000ff" stroke-width="1.12" />
<line x1="404.12" y1="145.31" x2="408.18" y2="143.09" stroke="#0000ff" stroke-width="1.12" />
<line x1="418.62" y1="137.18" x2="422.84" y2="134.72" stroke="#0000ff" stroke-width="1.12" />
<line x1="433.57" y1="129.42" x2="437.05" y2="127.98" stroke="#0000ff" stroke-width="1.12" />
<line x1="448.49" y1="124.57" x2="451.29" y2="124.03" stroke="#0000ff" stroke-width="1.12" />
<line x1="463.16" y1="122.41" x2="465.78" y2="122.19" stroke="#0000ff" stroke-width="1.12" />
<line x1="477.75" y1="121.45" x2="480.35" y2="121.35" stroke="#0000ff" stroke-width="1.12" />
<line x1="492.34" y1="120.94" x2="494.92" y2="120.86" stroke="#0000ff" stroke-width="1.12" />
<line x1="506.92" y1="120.58" x2="509.50" y2="120.52" stroke="#0000ff" stroke-width="1.12" />
<line x1="521.50" y1="120.32" x2="524.08" y2="120.28" stroke="#0000ff" stroke-width="1.12" />
<line x1="536.08" y1="120.12" x2="538.66" y2="120.08" stroke="#0000ff" stroke-width="1.12" />
<line x1="550.66" y1="119.88" x2="553.24" y2="119.82" stroke="#0000ff" stroke-width="1.12" />
<line x1="565.24" y1="119.62" x2="567.82" y2="119.58" stroke="#0000ff" stroke-width="1.12" />
<line x1="579.82" y1="119.29" x2="582.40" y2="119.21" stroke="#0000ff" stroke-width="1.12" />
<polygon points="267.64,507.07 272.54,515.57 262.74,515.57" fill="#0000ff"/>
<polygon points="282.22,417.07 287.12,425.57 277.32,425.57" fill="#0000ff"/>
<polygon points="296.80,352.07 301.70,360.57 291.90,360.57" fill="#0000ff"/>
<polygon points="311.38,308.07 316.28,316.57 306.48,316.57" fill="#0000ff"/>
<polygon points="325.96,276.07 330.86,284.57 321.06,284.57" fill="#0000ff"/>
<polygon points="340.54,232.47 345.44,240.97 335.64,240.97" fill="#0000ff"/>
<polygon points="355.12,206.27 360.02,214.77 350.22,214.77" fill="#0000ff"/>
<polygon points="369.70,185.07 374.60,193.57 364.80,193.57" fill="#0000ff"/>
<polygon points="384.28,156.07 389.18,164.57 379.38,164.57" fill="#0000ff"/>
<polygon points="398.86,142.37 403.76,150.87 393.96,150.87" fill="#0000ff"/>
<polygon points="413.44,134.37 418.34,142.87 408.54,142.87" fill="#0000ff"/>
<polygon points="428.02,125.87 432.92,134.37 423.12,134.37" fill="#0000ff"/>
<polygon points="442.60,119.87 447.50,128.37 437.70,128.37" fill="#0000ff"/>
<polygon points="457.18,117.07 462.08,125.57 452.28,125.57" fill="#0000ff"/>
<polygon points="471.76,115.87 476.66,124.37 466.86,124.37" fill="#0000ff"/>
<polygon points="486.34,115.27 491.24,123.77 481.44,123.77" fill="#0000ff"/>
<polygon points="500.92,114.87 505.82,123.37 496.02,123.37" fill="#0000ff"/>
<polygon points="515.50,114.57 520.40,123.07 510.60,123.07" fill="#0000ff"/>
<polygon points="530.08,114.37 534.98,122.87 525.18,122.87" fill="#0000ff"/>
<polygon points="544.66,114.17 549.56,122.67 539.76,122.67" fill="#0000ff"/>
<polygon points="559.24,113.87 564.14,122.37 554.34,122.37" fill="#0000ff"/>
<polygon points="573.82,113.67 578.72,122.17 568.92,122.17" fill="#0000ff"/>
<polygon points="588.40,113.17 593.30,121.67 583.50,121.67" fill="#0000ff"/>
</g>
<g clip-path="url(#clipA)">
<line x1="268.60" y1="506.08" x2="281.26" y2="427.92" stroke="#ff0000" stroke-width="1.12" />
<line x1="283.88" y1="416.23" x2="295.14" y2="377.02" stroke="#ff0000" stroke-width="1.12" />
<line x1="298.68" y1="365.55" x2="309.50" y2="332.70" stroke="#ff0000" stroke-width="1.12" />
<line x1="314.48" y1="321.86" x2="322.86" y2="307.94" stroke="#ff0000" stroke-width="1.12" />
<line x1="329.24" y1="297.78" x2="337.26" y2="285.52" stroke="#ff0000" stroke-width="1.12" />
<line x1="343.78" y1="275.45" x2="351.88" y2="262.85" stroke="#ff0000" stroke-width="1.12" />
<line x1="358.34" y1="252.74" x2="366.48" y2="239.96" stroke="#ff0000" stroke-width="1.12" />
<line x1="373.29" y1="230.09" x2="380.69" y2="220.21" stroke="#ff0000" stroke-width="1.12" />
<line x1="387.83" y1="210.56" x2="395.31" y2="200.34" stroke="#ff0000" stroke-width="1.12" />
<line x1="403.90" y1="192.25" x2="408.40" y2="189.35" stroke="#ff0000" stroke-width="1.12" />
<line x1="419.13" y1="184.19" x2="422.33" y2="183.11" stroke="#ff0000" stroke-width="1.12" />
<line x1="433.33" y1="178.40" x2="437.29" y2="176.30" stroke="#ff0000" stroke-width="1.12" />
<line x1="448.31" y1="171.66" x2="451.47" y2="170.64" stroke="#ff0000" stroke-width="1.12" />
<line x1="462.97" y1="167.21" x2="465.97" y2="166.39" stroke="#ff0000" stroke-width="1.12" />
<line x1="477.64" y1="163.59" x2="480.46" y2="163.01" stroke="#ff0000" stroke-width="1.12" />
<line x1="492.28" y1="160.94" x2="494.98" y2="160.56" stroke="#ff0000" stroke-width="1.12" />
<line x1="506.91" y1="159.29" x2="509.51" y2="159.11" stroke="#ff0000" stroke-width="1.12" />
<line x1="521.49" y1="158.29" x2="524.09" y2="158.11" stroke="#ff0000" stroke-width="1.12" />
<line x1="536.07" y1="157.37" x2="538.67" y2="157.23" stroke="#ff0000" stroke-width="1.12" />
<line x1="550.66" y1="156.74" x2="553.24" y2="156.66" stroke="#ff0000" stroke-width="1.12" />
<line x1="565.24" y1="156.29" x2="567.82" y2="156.21" stroke="#ff0000" stroke-width="1.12" />
<line x1="579.82" y1="155.79" x2="582.40" y2="155.71" stroke="#ff0000" stroke-width="1.12" />
<circle cx="267.64" cy="512.00" r="3.85" fill="#ff0000"/>
<circle cx="282.22" cy="422.00" r="3.85" fill="#ff0000"/>
<circle cx="296.80" cy="371.25" r="3.85" fill="#ff0000"/>
<circle cx="311.38" cy="327.00" r="3.85" fill="#ff0000"/>
<circle cx="325.96" cy="302.80" r="3.85" fill="#ff0000"/>
<circle cx="340.54" cy="280.50" r="3.85" fill="#ff0000"/>
<circle cx="355.12" cy="257.80" r="3.85" fill="#ff0000"/>
<circle cx="369.70" cy="234.90" r="3.85" fill="#ff0000"/>
<circle cx="384.28" cy="215.40" r="3.85" fill="#ff0000"/>
<circle cx="398.86" cy="195.50" r="3.85" fill="#ff0000"/>
<circle cx="413.44" cy="186.10" r="3.85" fill="#ff0000"/>
<circle cx="428.02" cy="181.20" r="3.85" fill="#ff0000"/>
<circle cx="442.60" cy="173.50" r="3.85" fill="#ff0000"/>
<circle cx="457.18" cy="168.80" r="3.85" fill="#ff0000"/>
<circle cx="471.76" cy="164.80" r="3.85" fill="#ff0000"/>
<circle cx="486.34" cy="161.80" r="3.85" fill="#ff0000"/>
<circle cx="500.92" cy="159.70" r="3.85" fill="#ff0000"/>
<circle cx="515.50" cy="158.70" r="3.85" fill="#ff0000"/>
<circle cx="530.08" cy="157.70" r="3.85" fill="#ff0000"/>
<circle cx="544.66" cy="156.90" r="3.85" fill="#ff0000"/>
<circle cx="559.24" cy="156.50" r="3.85" fill="#ff0000"/>
<circle cx="573.82" cy="156.00" r="3.85" fill="#ff0000"/>
<circle cx="588.40" cy="155.50" r="3.85" fill="#ff0000"/>
</g>
<rect x="134.40" y="53.80" width="145.90" height="99.60" fill="#fff" stroke="#222" stroke-width="1.2"/>
<line x1="143.40" y1="75.70" x2="165.10" y2="75.70" stroke="#000000" stroke-width="1.2" />
<line x1="174.30" y1="75.70" x2="196.20" y2="75.70" stroke="#000000" stroke-width="1.2" />
<rect x="165.90" y="71.90" width="7.60" height="7.60" fill="#000000"/>
<text x="204.20" y="82.80" font-size="20.9" text-anchor="start" font-weight="normal" font-style="normal" >TF</text>
<line x1="143.40" y1="105.30" x2="165.10" y2="105.30" stroke="#ff0000" stroke-width="1.2" />
<line x1="174.30" y1="105.30" x2="196.20" y2="105.30" stroke="#ff0000" stroke-width="1.2" />
<circle cx="169.70" cy="105.30" r="4.20" fill="#ff0000"/>
<text x="204.20" y="112.40" font-size="20.9" text-anchor="start" font-weight="normal" font-style="normal" >P500</text>
<line x1="143.40" y1="134.30" x2="165.10" y2="134.30" stroke="#0000ff" stroke-width="1.2" />
<line x1="174.30" y1="134.30" x2="196.20" y2="134.30" stroke="#0000ff" stroke-width="1.2" />
<polygon points="169.70,129.43 174.40,137.83 165.00,137.83" fill="#0000ff"/>
<text x="204.20" y="141.40" font-size="20.9" text-anchor="start" font-weight="normal" font-style="normal" >P1000</text>
<ellipse cx="267.15" cy="256.8" rx="47.4" ry="25.9" fill="none" stroke="#000" stroke-width="2.8"/>
<line x1="146.00" y1="256.30" x2="214.00" y2="256.30" stroke="#000" stroke-width="3.0" />
<polygon points="134.0,256.3 146.8,249.6 146.8,263.0" fill="#000"/>
<ellipse cx="375.65" cy="212.9" rx="41.6" ry="26.65" fill="none" stroke="#4472c4" stroke-width="2.9"/>
<line x1="417.50" y1="213.20" x2="516.50" y2="213.20" stroke="#4472c4" stroke-width="2.9" />
<polygon points="528.5,213.2 515.6,206.75 515.6,219.65" fill="#4472c4"/>
<text x="362.90" y="317.80" font-size="20.9" text-anchor="start" font-weight="normal" font-style="normal" >P500</text>
<text x="461.20" y="317.80" font-size="20.9" text-anchor="start" font-weight="normal" font-style="normal" >TF</text>
<text x="534.20" y="317.80" font-size="20.9" text-anchor="start" font-weight="normal" font-style="normal" >P1000</text>
<g clip-path="url(#cP5)">
<rect x="353" y="325" width="75" height="87" fill="#080907"/>
<line x1="388" y1="367.6" x2="427.5" y2="357.2" stroke="#2f2d19" stroke-width="2.4" filter="url(#blur1)"/>
<circle cx="425.5" cy="357.8" r="1.8" fill="#4b4529" filter="url(#blur1)"/>
<ellipse cx="382.7" cy="371.2" rx="6.3" ry="5.5" fill="#1fc253" filter="url(#blur05)"/>
<ellipse cx="382.9" cy="371.3" rx="3.6" ry="3.0" fill="#1ba84a" filter="url(#blur1)"/>
</g>
<g clip-path="url(#cTF)">
<rect x="441" y="325" width="76" height="87" fill="#020503"/>
<polygon points="441,325 476,325 441,336" fill="#051208" filter="url(#blur2)"/>
<polygon points="441,331 458,334 509,362 512,371 499,404 441,411" fill="#0a2711" filter="url(#blur1)"/>
<polygon points="441,343 462,343 500,365 491,397 441,404" fill="#0d3317" filter="url(#blur2)"/>
<line x1="459" y1="335" x2="509" y2="362.5" stroke="#12421d" stroke-width="1.6" filter="url(#blur1)"/>
<line x1="511" y1="371" x2="498" y2="403" stroke="#0e3518" stroke-width="1.6" filter="url(#blur1)"/>
<circle cx="470.5" cy="368.5" r="23" fill="url(#gTF)"/>
<ellipse cx="452" cy="366" rx="5" ry="6" fill="#15531f" opacity="0.6" filter="url(#blur2)"/>
<ellipse cx="465" cy="379.5" rx="4" ry="3.5" fill="#072610" filter="url(#blur1)"/>
<circle cx="477.5" cy="360.5" r="1.1" fill="#3fd05a" filter="url(#blur05)"/>
<ellipse cx="469.3" cy="367.6" rx="4.1" ry="5.2" fill="#cbc6cb" filter="url(#blur1)"/>
</g>
<g clip-path="url(#cP1)">
<rect x="527" y="325" width="77" height="87" fill="#0a0605"/>
<rect x="598.5" y="325" width="6" height="87" fill="#240b0b" filter="url(#blur2)"/>
<rect x="527" y="323" width="77" height="6" fill="#1c0a09" filter="url(#blur2)"/>
<circle cx="531" cy="378" r="9" fill="#3a1408" filter="url(#blur2)"/>
<circle cx="533.3" cy="381.8" r="8.5" fill="url(#gP1l)"/>
<ellipse cx="597.3" cy="373" rx="4.2" ry="13" fill="url(#gP1r)"/>
<ellipse cx="595.5" cy="400" rx="3" ry="4" fill="#0d3a14" filter="url(#blur1)"/>
<circle cx="555.8" cy="371.5" r="16.5" fill="url(#gP1)"/>
<rect x="551" y="366.8" width="9.6" height="9.4" rx="4" fill="#ffffff" filter="url(#blur05)"/>
</g>
<rect x="861.4" y="35.0" width="510.0000000000001" height="403.35" fill="none" stroke="#222" stroke-width="1.25"/>
<line x1="860.73" y1="438.35" x2="860.73" y2="442.15" stroke="#222" stroke-width="1.25" />
<line x1="897.20" y1="438.35" x2="897.20" y2="445.75" stroke="#222" stroke-width="1.25" />
<text x="897.20" y="477.00" font-size="25.4" text-anchor="middle" font-weight="normal" font-style="normal" >2.0</text>
<line x1="933.67" y1="438.35" x2="933.67" y2="442.15" stroke="#222" stroke-width="1.25" />
<line x1="970.13" y1="438.35" x2="970.13" y2="445.75" stroke="#222" stroke-width="1.25" />
<text x="970.13" y="477.00" font-size="25.4" text-anchor="middle" font-weight="normal" font-style="normal" >2.5</text>
<line x1="1006.60" y1="438.35" x2="1006.60" y2="442.15" stroke="#222" stroke-width="1.25" />
<line x1="1043.07" y1="438.35" x2="1043.07" y2="445.75" stroke="#222" stroke-width="1.25" />
<text x="1043.07" y="477.00" font-size="25.4" text-anchor="middle" font-weight="normal" font-style="normal" >3.0</text>
<line x1="1079.54" y1="438.35" x2="1079.54" y2="442.15" stroke="#222" stroke-width="1.25" />
<line x1="1116.01" y1="438.35" x2="1116.01" y2="445.75" stroke="#222" stroke-width="1.25" />
<text x="1116.01" y="477.00" font-size="25.4" text-anchor="middle" font-weight="normal" font-style="normal" >3.5</text>
<line x1="1152.47" y1="438.35" x2="1152.47" y2="442.15" stroke="#222" stroke-width="1.25" />
<line x1="1188.94" y1="438.35" x2="1188.94" y2="445.75" stroke="#222" stroke-width="1.25" />
<text x="1188.94" y="477.00" font-size="25.4" text-anchor="middle" font-weight="normal" font-style="normal" >4.0</text>
<line x1="1225.41" y1="438.35" x2="1225.41" y2="442.15" stroke="#222" stroke-width="1.25" />
<line x1="1261.88" y1="438.35" x2="1261.88" y2="445.75" stroke="#222" stroke-width="1.25" />
<text x="1261.88" y="477.00" font-size="25.4" text-anchor="middle" font-weight="normal" font-style="normal" >4.5</text>
<line x1="1298.34" y1="438.35" x2="1298.34" y2="442.15" stroke="#222" stroke-width="1.25" />
<line x1="1334.81" y1="438.35" x2="1334.81" y2="445.75" stroke="#222" stroke-width="1.25" />
<text x="1334.81" y="477.00" font-size="25.4" text-anchor="middle" font-weight="normal" font-style="normal" >5.0</text>
<line x1="1371.28" y1="438.35" x2="1371.28" y2="442.15" stroke="#222" stroke-width="1.25" />
<line x1="856.80" y1="438.70" x2="861.40" y2="438.70" stroke="#222" stroke-width="1.25" />
<line x1="853.20" y1="402.00" x2="861.40" y2="402.00" stroke="#222" stroke-width="1.25" />
<text x="841.80" y="409.50" font-size="25.4" text-anchor="end" font-weight="normal" font-style="normal" >0</text>
<line x1="856.80" y1="365.30" x2="861.40" y2="365.30" stroke="#222" stroke-width="1.25" />
<line x1="853.20" y1="328.60" x2="861.40" y2="328.60" stroke="#222" stroke-width="1.25" />
<text x="841.80" y="336.36" font-size="25.4" text-anchor="end" font-weight="normal" font-style="normal" >4</text>
<line x1="856.80" y1="291.90" x2="861.40" y2="291.90" stroke="#222" stroke-width="1.25" />
<line x1="853.20" y1="255.20" x2="861.40" y2="255.20" stroke="#222" stroke-width="1.25" />
<text x="841.80" y="263.22" font-size="25.4" text-anchor="end" font-weight="normal" font-style="normal" >8</text>
<line x1="856.80" y1="218.50" x2="861.40" y2="218.50" stroke="#222" stroke-width="1.25" />
<line x1="853.20" y1="181.80" x2="861.40" y2="181.80" stroke="#222" stroke-width="1.25" />
<text x="841.80" y="190.08" font-size="25.4" text-anchor="end" font-weight="normal" font-style="normal" >12</text>
<line x1="856.80" y1="145.10" x2="861.40" y2="145.10" stroke="#222" stroke-width="1.25" />
<line x1="853.20" y1="108.40" x2="861.40" y2="108.40" stroke="#222" stroke-width="1.25" />
<text x="841.80" y="116.94" font-size="25.4" text-anchor="end" font-weight="normal" font-style="normal" >16</text>
<line x1="856.80" y1="71.70" x2="861.40" y2="71.70" stroke="#222" stroke-width="1.25" />
<line x1="853.20" y1="35.00" x2="861.40" y2="35.00" stroke="#222" stroke-width="1.25" />
<text x="841.80" y="43.80" font-size="25.4" text-anchor="end" font-weight="normal" font-style="normal" >20</text>
<text x="1113.40" y="515.70" font-size="25.4" text-anchor="middle" font-weight="normal" font-style="normal" ><tspan font-style="italic">V</tspan>(V)</text>
<text transform="translate(791.7,240) rotate(-90)" font-size="24.7" text-anchor="middle">EQE (%)</text>
<text x="770.00" y="31.40" font-size="42.2" text-anchor="start" font-weight="bold" font-style="normal" >b</text>
<g>
<polyline points="897.20,402.20 911.79,402.20 926.37,402.20 940.96,402.20 955.55,402.20 970.13,402.20 984.72,402.20 999.31,402.20 1013.90,402.20 1028.48,402.20 1043.07,401.30 1057.66,399.30 1072.24,396.80 1086.83,394.30 1101.42,390.60 1116.01,380.40 1130.59,362.90 1145.18,337.40 1159.77,309.00 1174.35,292.00 1188.94,274.00 1203.53,263.60 1218.11,254.30 1232.70,252.30 1247.29,251.10 1261.88,258.10 1276.46,264.80 1291.05,274.30 1305.64,282.80 1320.22,291.00 1334.81,298.00" fill="none" stroke="#000000" stroke-width="1.1" stroke-linejoin="round"/>
<rect x="893.30" y="398.30" width="7.80" height="7.80" fill="#000000"/>
<rect x="907.89" y="398.30" width="7.80" height="7.80" fill="#000000"/>
<rect x="922.47" y="398.30" width="7.80" height="7.80" fill="#000000"/>
<rect x="937.06" y="398.30" width="7.80" height="7.80" fill="#000000"/>
<rect x="951.65" y="398.30" width="7.80" height="7.80" fill="#000000"/>
<rect x="966.24" y="398.30" width="7.80" height="7.80" fill="#000000"/>
<rect x="980.82" y="398.30" width="7.80" height="7.80" fill="#000000"/>
<rect x="995.41" y="398.30" width="7.80" height="7.80" fill="#000000"/>
<rect x="1010.00" y="398.30" width="7.80" height="7.80" fill="#000000"/>
<rect x="1024.58" y="398.30" width="7.80" height="7.80" fill="#000000"/>
<rect x="1039.17" y="397.40" width="7.80" height="7.80" fill="#000000"/>
<rect x="1053.76" y="395.40" width="7.80" height="7.80" fill="#000000"/>
<rect x="1068.34" y="392.90" width="7.80" height="7.80" fill="#000000"/>
<rect x="1082.93" y="390.40" width="7.80" height="7.80" fill="#000000"/>
<rect x="1097.52" y="386.70" width="7.80" height="7.80" fill="#000000"/>
<rect x="1112.11" y="376.50" width="7.80" height="7.80" fill="#000000"/>
<rect x="1126.69" y="359.00" width="7.80" height="7.80" fill="#000000"/>
<rect x="1141.28" y="333.50" width="7.80" height="7.80" fill="#000000"/>
<rect x="1155.87" y="305.10" width="7.80" height="7.80" fill="#000000"/>
<rect x="1170.45" y="288.10" width="7.80" height="7.80" fill="#000000"/>
<rect x="1185.04" y="270.10" width="7.80" height="7.80" fill="#000000"/>
<rect x="1199.63" y="259.70" width="7.80" height="7.80" fill="#000000"/>
<rect x="1214.21" y="250.40" width="7.80" height="7.80" fill="#000000"/>
<rect x="1228.80" y="248.40" width="7.80" height="7.80" fill="#000000"/>
<rect x="1243.39" y="247.20" width="7.80" height="7.80" fill="#000000"/>
<rect x="1257.97" y="254.20" width="7.80" height="7.80" fill="#000000"/>
<rect x="1272.56" y="260.90" width="7.80" height="7.80" fill="#000000"/>
<rect x="1287.15" y="270.40" width="7.80" height="7.80" fill="#000000"/>
<rect x="1301.74" y="278.90" width="7.80" height="7.80" fill="#000000"/>
<rect x="1316.32" y="287.10" width="7.80" height="7.80" fill="#000000"/>
<rect x="1330.91" y="294.10" width="7.80" height="7.80" fill="#000000"/>
</g>
<g>
<polyline points="897.20,403.10 911.79,403.10 926.37,403.10 940.96,403.10 955.55,403.10 970.13,403.10 984.72,403.10 999.31,403.10 1013.90,403.10 1028.48,403.10 1043.07,401.10 1057.66,398.70 1072.24,395.70 1086.83,390.70 1101.42,377.80 1116.01,348.30 1130.59,284.40 1145.18,220.80 1159.77,178.30 1174.35,123.30 1188.94,81.60 1203.53,85.90 1218.11,95.80 1232.70,115.80 1247.29,134.00 1261.88,152.70 1276.46,169.40 1291.05,183.90 1305.64,198.30 1320.22,212.80 1334.81,226.30" fill="none" stroke="#0000ff" stroke-width="1.1" stroke-linejoin="round"/>
<polygon points="897.20,396.63 902.50,406.23 891.90,406.23" fill="#0000ff"/>
<polygon points="911.79,396.63 917.09,406.23 906.49,406.23" fill="#0000ff"/>
<polygon points="926.37,396.63 931.67,406.23 921.07,406.23" fill="#0000ff"/>
<polygon points="940.96,396.63 946.26,406.23 935.66,406.23" fill="#0000ff"/>
<polygon points="955.55,396.63 960.85,406.23 950.25,406.23" fill="#0000ff"/>
<polygon points="970.13,396.63 975.43,406.23 964.84,406.23" fill="#0000ff"/>
<polygon points="984.72,396.63 990.02,406.23 979.42,406.23" fill="#0000ff"/>
<polygon points="999.31,396.63 1004.61,406.23 994.01,406.23" fill="#0000ff"/>
<polygon points="1013.90,396.63 1019.20,406.23 1008.60,406.23" fill="#0000ff"/>
<polygon points="1028.48,396.63 1033.78,406.23 1023.18,406.23" fill="#0000ff"/>
<polygon points="1043.07,394.63 1048.37,404.23 1037.77,404.23" fill="#0000ff"/>
<polygon points="1057.66,392.23 1062.96,401.83 1052.36,401.83" fill="#0000ff"/>
<polygon points="1072.24,389.23 1077.54,398.83 1066.94,398.83" fill="#0000ff"/>
<polygon points="1086.83,384.23 1092.13,393.83 1081.53,393.83" fill="#0000ff"/>
<polygon points="1101.42,371.33 1106.72,380.93 1096.12,380.93" fill="#0000ff"/>
<polygon points="1116.01,341.83 1121.31,351.43 1110.71,351.43" fill="#0000ff"/>
<polygon points="1130.59,277.93 1135.89,287.53 1125.29,287.53" fill="#0000ff"/>
<polygon points="1145.18,214.33 1150.48,223.93 1139.88,223.93" fill="#0000ff"/>
<polygon points="1159.77,171.83 1165.07,181.43 1154.47,181.43" fill="#0000ff"/>
<polygon points="1174.35,116.83 1179.65,126.43 1169.05,126.43" fill="#0000ff"/>
<polygon points="1188.94,75.13 1194.24,84.73 1183.64,84.73" fill="#0000ff"/>
<polygon points="1203.53,79.43 1208.83,89.03 1198.23,89.03" fill="#0000ff"/>
<polygon points="1218.11,89.33 1223.41,98.93 1212.81,98.93" fill="#0000ff"/>
<polygon points="1232.70,109.33 1238.00,118.93 1227.40,118.93" fill="#0000ff"/>
<polygon points="1247.29,127.53 1252.59,137.13 1241.99,137.13" fill="#0000ff"/>
<polygon points="1261.88,146.23 1267.17,155.83 1256.58,155.83" fill="#0000ff"/>
<polygon points="1276.46,162.93 1281.76,172.53 1271.16,172.53" fill="#0000ff"/>
<polygon points="1291.05,177.43 1296.35,187.03 1285.75,187.03" fill="#0000ff"/>
<polygon points="1305.64,191.83 1310.94,201.43 1300.34,201.43" fill="#0000ff"/>
<polygon points="1320.22,206.33 1325.52,215.93 1314.92,215.93" fill="#0000ff"/>
<polygon points="1334.81,219.83 1340.11,229.43 1329.51,229.43" fill="#0000ff"/>
</g>
<g>
<polyline points="897.20,402.30 911.79,402.30 926.37,402.30 940.96,402.30 955.55,402.30 970.13,402.30 984.72,402.30 999.31,402.30 1013.90,402.30 1028.48,402.30 1043.07,402.30 1057.66,401.60 1072.24,400.60 1086.83,399.30 1101.42,398.10 1116.01,394.00 1130.59,385.50 1145.18,376.10 1159.77,367.40 1174.35,363.10 1188.94,354.90 1203.53,350.60 1218.11,347.90 1232.70,347.10 1247.29,346.90 1261.88,349.40 1276.46,351.40 1291.05,355.10 1305.64,357.90 1320.22,361.40 1334.81,363.60" fill="none" stroke="#ff0000" stroke-width="1.1" stroke-linejoin="round"/>
<circle cx="897.20" cy="402.30" r="4.30" fill="#ff0000"/>
<circle cx="911.79" cy="402.30" r="4.30" fill="#ff0000"/>
<circle cx="926.37" cy="402.30" r="4.30" fill="#ff0000"/>
<circle cx="940.96" cy="402.30" r="4.30" fill="#ff0000"/>
<circle cx="955.55" cy="402.30" r="4.30" fill="#ff0000"/>
<circle cx="970.13" cy="402.30" r="4.30" fill="#ff0000"/>
<circle cx="984.72" cy="402.30" r="4.30" fill="#ff0000"/>
<circle cx="999.31" cy="402.30" r="4.30" fill="#ff0000"/>
<circle cx="1013.90" cy="402.30" r="4.30" fill="#ff0000"/>
<circle cx="1028.48" cy="402.30" r="4.30" fill="#ff0000"/>
<circle cx="1043.07" cy="402.30" r="4.30" fill="#ff0000"/>
<circle cx="1057.66" cy="401.60" r="4.30" fill="#ff0000"/>
<circle cx="1072.24" cy="400.60" r="4.30" fill="#ff0000"/>
<circle cx="1086.83" cy="399.30" r="4.30" fill="#ff0000"/>
<circle cx="1101.42" cy="398.10" r="4.30" fill="#ff0000"/>
<circle cx="1116.01" cy="394.00" r="4.30" fill="#ff0000"/>
<circle cx="1130.59" cy="385.50" r="4.30" fill="#ff0000"/>
<circle cx="1145.18" cy="376.10" r="4.30" fill="#ff0000"/>
<circle cx="1159.77" cy="367.40" r="4.30" fill="#ff0000"/>
<circle cx="1174.35" cy="363.10" r="4.30" fill="#ff0000"/>
<circle cx="1188.94" cy="354.90" r="4.30" fill="#ff0000"/>
<circle cx="1203.53" cy="350.60" r="4.30" fill="#ff0000"/>
<circle cx="1218.11" cy="347.90" r="4.30" fill="#ff0000"/>
<circle cx="1232.70" cy="347.10" r="4.30" fill="#ff0000"/>
<circle cx="1247.29" cy="346.90" r="4.30" fill="#ff0000"/>
<circle cx="1261.88" cy="349.40" r="4.30" fill="#ff0000"/>
<circle cx="1276.46" cy="351.40" r="4.30" fill="#ff0000"/>
<circle cx="1291.05" cy="355.10" r="4.30" fill="#ff0000"/>
<circle cx="1305.64" cy="357.90" r="4.30" fill="#ff0000"/>
<circle cx="1320.22" cy="361.40" r="4.30" fill="#ff0000"/>
<circle cx="1334.81" cy="363.60" r="4.30" fill="#ff0000"/>
</g>
<rect x="878.40" y="49.30" width="152.30" height="95.20" fill="#fff" stroke="#222" stroke-width="1.2"/>
<line x1="890.50" y1="69.80" x2="946.80" y2="69.80" stroke="#0000ff" stroke-width="1.2" />
<polygon points="919.10,64.35 924.60,73.75 913.60,73.75" fill="#0000ff"/>
<text x="954.60" y="76.90" font-size="20.9" text-anchor="start" font-weight="normal" font-style="normal" >P1000</text>
<line x1="890.50" y1="99.90" x2="946.80" y2="99.90" stroke="#000000" stroke-width="1.2" />
<rect x="915.30" y="96.10" width="7.60" height="7.60" fill="#000000"/>
<text x="954.60" y="107.00" font-size="20.9" text-anchor="start" font-weight="normal" font-style="normal" >TF</text>
<line x1="890.50" y1="130.00" x2="946.80" y2="130.00" stroke="#ff0000" stroke-width="1.2" />
<circle cx="919.10" cy="130.00" r="4.20" fill="#ff0000"/>
<text x="954.60" y="137.10" font-size="20.9" text-anchor="start" font-weight="normal" font-style="normal" >P500</text>
<rect x="1509.6" y="35.0" width="508.60000000000014" height="403.35" fill="none" stroke="#222" stroke-width="1.25"/>
<line x1="1509.18" y1="438.35" x2="1509.18" y2="442.15" stroke="#222" stroke-width="1.25" />
<line x1="1545.60" y1="438.35" x2="1545.60" y2="445.75" stroke="#222" stroke-width="1.25" />
<text x="1545.60" y="477.00" font-size="25.4" text-anchor="middle" font-weight="normal" font-style="normal" >2.0</text>
<line x1="1582.02" y1="438.35" x2="1582.02" y2="442.15" stroke="#222" stroke-width="1.25" />
<line x1="1618.43" y1="438.35" x2="1618.43" y2="445.75" stroke="#222" stroke-width="1.25" />
<text x="1618.43" y="477.00" font-size="25.4" text-anchor="middle" font-weight="normal" font-style="normal" >2.5</text>
<line x1="1654.85" y1="438.35" x2="1654.85" y2="442.15" stroke="#222" stroke-width="1.25" />
<line x1="1691.27" y1="438.35" x2="1691.27" y2="445.75" stroke="#222" stroke-width="1.25" />
<text x="1691.27" y="477.00" font-size="25.4" text-anchor="middle" font-weight="normal" font-style="normal" >3.0</text>
<line x1="1727.69" y1="438.35" x2="1727.69" y2="442.15" stroke="#222" stroke-width="1.25" />
<line x1="1764.11" y1="438.35" x2="1764.11" y2="445.75" stroke="#222" stroke-width="1.25" />
<text x="1764.11" y="477.00" font-size="25.4" text-anchor="middle" font-weight="normal" font-style="normal" >3.5</text>
<line x1="1800.52" y1="438.35" x2="1800.52" y2="442.15" stroke="#222" stroke-width="1.25" />
<line x1="1836.94" y1="438.35" x2="1836.94" y2="445.75" stroke="#222" stroke-width="1.25" />
<text x="1836.94" y="477.00" font-size="25.4" text-anchor="middle" font-weight="normal" font-style="normal" >4.0</text>
<line x1="1873.36" y1="438.35" x2="1873.36" y2="442.15" stroke="#222" stroke-width="1.25" />
<line x1="1909.77" y1="438.35" x2="1909.77" y2="445.75" stroke="#222" stroke-width="1.25" />
<text x="1909.77" y="477.00" font-size="25.4" text-anchor="middle" font-weight="normal" font-style="normal" >4.5</text>
<line x1="1946.19" y1="438.35" x2="1946.19" y2="442.15" stroke="#222" stroke-width="1.25" />
<line x1="1982.61" y1="438.35" x2="1982.61" y2="445.75" stroke="#222" stroke-width="1.25" />
<text x="1982.61" y="477.00" font-size="25.4" text-anchor="middle" font-weight="normal" font-style="normal" >5.0</text>
<line x1="2019.03" y1="438.35" x2="2019.03" y2="442.15" stroke="#222" stroke-width="1.25" />
<line x1="1505.80" y1="438.55" x2="1509.60" y2="438.55" stroke="#222" stroke-width="1.25" />
<line x1="1501.40" y1="404.90" x2="1509.60" y2="404.90" stroke="#222" stroke-width="1.25" />
<text x="1490.60" y="412.10" font-size="25.4" text-anchor="end" font-weight="normal" font-style="normal" >0.5</text>
<line x1="1505.80" y1="371.25" x2="1509.60" y2="371.25" stroke="#222" stroke-width="1.25" />
<line x1="1501.40" y1="337.60" x2="1509.60" y2="337.60" stroke="#222" stroke-width="1.25" />
<text x="1490.60" y="345.12" font-size="25.4" text-anchor="end" font-weight="normal" font-style="normal" >1.0</text>
<line x1="1505.80" y1="303.95" x2="1509.60" y2="303.95" stroke="#222" stroke-width="1.25" />
<line x1="1501.40" y1="270.30" x2="1509.60" y2="270.30" stroke="#222" stroke-width="1.25" />
<text x="1490.60" y="278.14" font-size="25.4" text-anchor="end" font-weight="normal" font-style="normal" >1.5</text>
<line x1="1505.80" y1="236.65" x2="1509.60" y2="236.65" stroke="#222" stroke-width="1.25" />
<line x1="1501.40" y1="203.00" x2="1509.60" y2="203.00" stroke="#222" stroke-width="1.25" />
<text x="1490.60" y="211.16" font-size="25.4" text-anchor="end" font-weight="normal" font-style="normal" >2.0</text>
<line x1="1505.80" y1="169.35" x2="1509.60" y2="169.35" stroke="#222" stroke-width="1.25" />
<line x1="1501.40" y1="135.70" x2="1509.60" y2="135.70" stroke="#222" stroke-width="1.25" />
<text x="1490.60" y="144.18" font-size="25.4" text-anchor="end" font-weight="normal" font-style="normal" >2.5</text>
<line x1="1505.80" y1="102.05" x2="1509.60" y2="102.05" stroke="#222" stroke-width="1.25" />
<line x1="1501.40" y1="68.40" x2="1509.60" y2="68.40" stroke="#222" stroke-width="1.25" />
<text x="1490.60" y="77.20" font-size="25.4" text-anchor="end" font-weight="normal" font-style="normal" >3.0</text>
<line x1="1505.80" y1="34.75" x2="1509.60" y2="34.75" stroke="#222" stroke-width="1.25" />
<text x="1761.70" y="515.70" font-size="25.4" text-anchor="middle" font-weight="normal" font-style="normal" ><tspan font-style="italic">V</tspan>(V)</text>
<text transform="translate(1436.3,239.5) rotate(-90)" font-size="24.7" text-anchor="middle">EQE EF</text>
<text x="1416.90" y="31.40" font-size="42.2" text-anchor="start" font-weight="bold" font-style="normal" >c</text>
<g>
<polyline points="1560.17,405.70 1574.73,406.90 1589.30,408.20 1603.87,409.90 1618.43,399.50 1633.00,395.70 1647.57,398.70 1662.14,389.50 1676.70,348.80 1691.27,314.50 1705.84,284.50 1720.40,257.00 1734.97,230.80 1749.54,188.40 1764.11,135.80 1778.67,77.10 1793.24,94.60 1807.81,123.80 1822.37,129.50 1836.94,135.00 1851.51,165.30 1866.07,193.30 1880.64,214.50 1895.21,231.90 1909.77,237.70 1924.34,242.70 1938.91,242.00 1953.48,241.70 1968.04,242.70 1982.61,244.50" fill="none" stroke="#0000ff" stroke-width="1.1" stroke-linejoin="round"/>
<polygon points="1560.17,399.23 1565.47,408.83 1554.87,408.83" fill="#0000ff"/>
<polygon points="1574.73,400.43 1580.03,410.03 1569.43,410.03" fill="#0000ff"/>
<polygon points="1589.30,401.73 1594.60,411.33 1584.00,411.33" fill="#0000ff"/>
<polygon points="1603.87,403.43 1609.17,413.03 1598.57,413.03" fill="#0000ff"/>
<polygon points="1618.43,393.03 1623.73,402.63 1613.13,402.63" fill="#0000ff"/>
<polygon points="1633.00,389.23 1638.30,398.83 1627.70,398.83" fill="#0000ff"/>
<polygon points="1647.57,392.23 1652.87,401.83 1642.27,401.83" fill="#0000ff"/>
<polygon points="1662.14,383.03 1667.44,392.63 1656.84,392.63" fill="#0000ff"/>
<polygon points="1676.70,342.33 1682.00,351.93 1671.40,351.93" fill="#0000ff"/>
<polygon points="1691.27,308.03 1696.57,317.63 1685.97,317.63" fill="#0000ff"/>
<polygon points="1705.84,278.03 1711.14,287.63 1700.54,287.63" fill="#0000ff"/>
<polygon points="1720.40,250.53 1725.70,260.13 1715.10,260.13" fill="#0000ff"/>
<polygon points="1734.97,224.33 1740.27,233.93 1729.67,233.93" fill="#0000ff"/>
<polygon points="1749.54,181.93 1754.84,191.53 1744.24,191.53" fill="#0000ff"/>
<polygon points="1764.11,129.33 1769.40,138.93 1758.81,138.93" fill="#0000ff"/>
<polygon points="1778.67,70.63 1783.97,80.23 1773.37,80.23" fill="#0000ff"/>
<polygon points="1793.24,88.13 1798.54,97.73 1787.94,97.73" fill="#0000ff"/>
<polygon points="1807.81,117.33 1813.11,126.93 1802.51,126.93" fill="#0000ff"/>
<polygon points="1822.37,123.03 1827.67,132.63 1817.07,132.63" fill="#0000ff"/>
<polygon points="1836.94,128.53 1842.24,138.13 1831.64,138.13" fill="#0000ff"/>
<polygon points="1851.51,158.83 1856.81,168.43 1846.21,168.43" fill="#0000ff"/>
<polygon points="1866.07,186.83 1871.37,196.43 1860.77,196.43" fill="#0000ff"/>
<polygon points="1880.64,208.03 1885.94,217.63 1875.34,217.63" fill="#0000ff"/>
<polygon points="1895.21,225.43 1900.51,235.03 1889.91,235.03" fill="#0000ff"/>
<polygon points="1909.77,231.23 1915.07,240.83 1904.47,240.83" fill="#0000ff"/>
<polygon points="1924.34,236.23 1929.64,245.83 1919.04,245.83" fill="#0000ff"/>
<polygon points="1938.91,235.53 1944.21,245.13 1933.61,245.13" fill="#0000ff"/>
<polygon points="1953.48,235.23 1958.78,244.83 1948.18,244.83" fill="#0000ff"/>
<polygon points="1968.04,236.23 1973.34,245.83 1962.74,245.83" fill="#0000ff"/>
<polygon points="1982.61,238.03 1987.91,247.63 1977.31,247.63" fill="#0000ff"/>
</g>
<g>
<polyline points="1560.17,417.80 1574.73,405.60 1589.30,423.00 1603.87,423.00 1618.43,423.00 1633.00,423.00 1647.57,418.50 1662.14,406.60 1676.70,406.60 1691.27,407.30 1705.84,413.00 1720.40,421.00 1734.97,423.00 1749.54,423.00 1764.11,423.10 1778.67,414.90 1793.24,418.20 1807.81,423.10 1822.37,424.90 1836.94,423.10 1851.51,423.10 1866.07,423.10 1880.64,423.10 1895.21,423.10 1909.77,423.10 1924.34,423.10 1938.91,423.10 1953.48,423.10 1968.04,423.10 1982.61,423.10" fill="none" stroke="#ff0000" stroke-width="1.1" stroke-linejoin="round"/>
<circle cx="1560.17" cy="417.80" r="4.30" fill="#ff0000"/>
<circle cx="1574.73" cy="405.60" r="4.30" fill="#ff0000"/>
<circle cx="1589.30" cy="423.00" r="4.30" fill="#ff0000"/>
<circle cx="1603.87" cy="423.00" r="4.30" fill="#ff0000"/>
<circle cx="1618.43" cy="423.00" r="4.30" fill="#ff0000"/>
<circle cx="1633.00" cy="423.00" r="4.30" fill="#ff0000"/>
<circle cx="1647.57" cy="418.50" r="4.30" fill="#ff0000"/>
<circle cx="1662.14" cy="406.60" r="4.30" fill="#ff0000"/>
<circle cx="1676.70" cy="406.60" r="4.30" fill="#ff0000"/>
<circle cx="1691.27" cy="407.30" r="4.30" fill="#ff0000"/>
<circle cx="1705.84" cy="413.00" r="4.30" fill="#ff0000"/>
<circle cx="1720.40" cy="421.00" r="4.30" fill="#ff0000"/>
<circle cx="1734.97" cy="423.00" r="4.30" fill="#ff0000"/>
<circle cx="1749.54" cy="423.00" r="4.30" fill="#ff0000"/>
<circle cx="1764.11" cy="423.10" r="4.30" fill="#ff0000"/>
<circle cx="1778.67" cy="414.90" r="4.30" fill="#ff0000"/>
<circle cx="1793.24" cy="418.20" r="4.30" fill="#ff0000"/>
<circle cx="1807.81" cy="423.10" r="4.30" fill="#ff0000"/>
<circle cx="1822.37" cy="424.90" r="4.30" fill="#ff0000"/>
<circle cx="1836.94" cy="423.10" r="4.30" fill="#ff0000"/>
<circle cx="1851.51" cy="423.10" r="4.30" fill="#ff0000"/>
<circle cx="1866.07" cy="423.10" r="4.30" fill="#ff0000"/>
<circle cx="1880.64" cy="423.10" r="4.30" fill="#ff0000"/>
<circle cx="1895.21" cy="423.10" r="4.30" fill="#ff0000"/>
<circle cx="1909.77" cy="423.10" r="4.30" fill="#ff0000"/>
<circle cx="1924.34" cy="423.10" r="4.30" fill="#ff0000"/>
<circle cx="1938.91" cy="423.10" r="4.30" fill="#ff0000"/>
<circle cx="1953.48" cy="423.10" r="4.30" fill="#ff0000"/>
<circle cx="1968.04" cy="423.10" r="4.30" fill="#ff0000"/>
<circle cx="1982.61" cy="423.10" r="4.30" fill="#ff0000"/>
</g>
<rect x="1528.70" y="55.70" width="152.00" height="62.60" fill="#fff" stroke="#222" stroke-width="1.2"/>
<line x1="1541.10" y1="74.90" x2="1596.80" y2="74.90" stroke="#0000ff" stroke-width="1.2" />
<polygon points="1569.30,69.45 1574.80,78.85 1563.80,78.85" fill="#0000ff"/>
<text x="1605.40" y="82.00" font-size="20.9" text-anchor="start" font-weight="normal" font-style="normal" >P1000</text>
<line x1="1541.10" y1="104.90" x2="1596.80" y2="104.90" stroke="#ff0000" stroke-width="1.2" />
<circle cx="1569.30" cy="104.90" r="4.20" fill="#ff0000"/>
<text x="1605.40" y="112.00" font-size="20.9" text-anchor="start" font-weight="normal" font-style="normal" >P500</text>
</svg>
</body></html>
